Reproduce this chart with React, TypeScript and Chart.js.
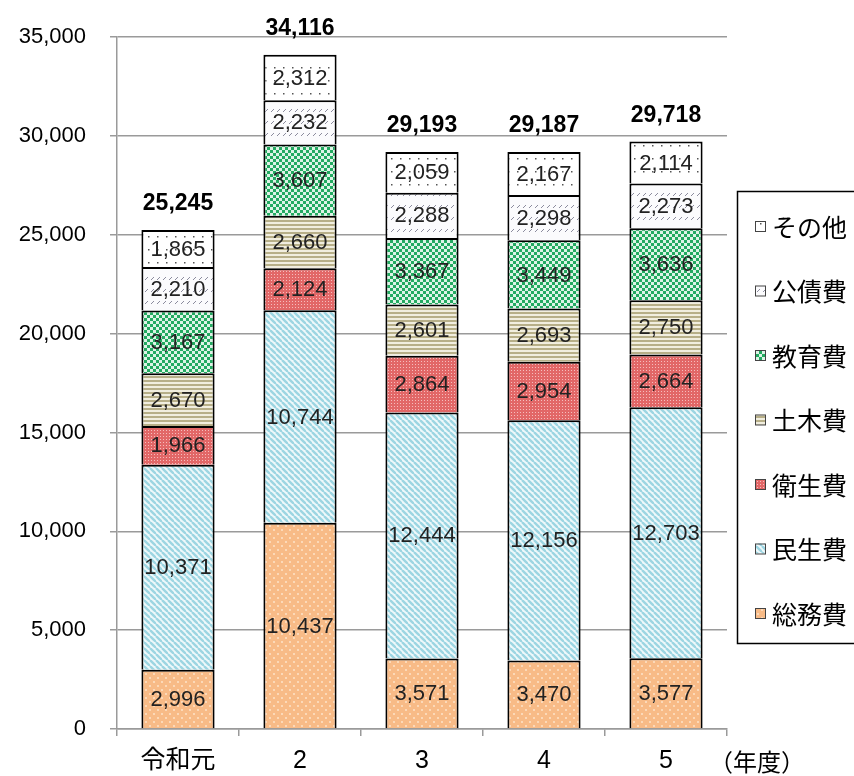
import React, { useEffect, useRef } from "react";
import { Chart, registerables } from "chart.js";

Chart.register(...registerables);

const categories = ["令和元", "2", "3", "4", "5"];
const seriesLabels = ["総務費", "民生費", "衛生費", "土木費", "教育費", "公債費", "その他"];
const soumu = [2996, 10437, 3571, 3470, 3577];
const minsei = [10371, 10744, 12444, 12156, 12703];
const eisei = [1966, 2124, 2864, 2954, 2664];
const doboku = [2670, 2660, 2601, 2693, 2750];
const kyouiku = [3167, 3607, 3367, 3449, 3636];
const kousai = [2210, 2232, 2288, 2298, 2273];
const sonota = [1865, 2312, 2059, 2167, 2114];
const totals = [25245, 34116, 29193, 29187, 29718];
const yMax = 35000;
const yStep = 5000;
const xUnit = "（年度）";

const fmt = (v: number) => v.toLocaleString("en-US");

function tile(w: number, h: number, draw: (c: CanvasRenderingContext2D) => void) {
  const cv = document.createElement("canvas");
  cv.width = w;
  cv.height = h;
  const c = cv.getContext("2d")!;
  draw(c);
  return cv;
}

function makePatterns(ctx: CanvasRenderingContext2D) {
  const p: CanvasPattern[] = [];
  p.push(
    ctx.createPattern(
      tile(8, 8, (c) => {
        c.fillStyle = "#F8BB87";
        c.fillRect(0, 0, 8, 8);
        c.fillStyle = "#FCD9B8";
        c.fillRect(1, 1, 2, 2);
        c.fillRect(5, 5, 2, 2);
      }),
      "repeat"
    )!
  );
  p.push(
    ctx.createPattern(
      tile(6, 6, (c) => {
        c.fillStyle = "#EEF8FA";
        c.fillRect(0, 0, 6, 6);
        c.strokeStyle = "#9CD5E2";
        c.lineWidth = 2.4;
        for (let k = -6; k <= 12; k += 6) {
          c.beginPath();
          c.moveTo(k, 0);
          c.lineTo(k + 6, 6);
          c.stroke();
        }
      }),
      "repeat"
    )!
  );
  p.push(
    ctx.createPattern(
      tile(3, 3, (c) => {
        c.fillStyle = "#E26767";
        c.fillRect(0, 0, 3, 3);
        c.fillStyle = "#F5BDBD";
        c.fillRect(1, 1, 1, 1);
      }),
      "repeat"
    )!
  );
  p.push(
    ctx.createPattern(
      tile(4, 4, (c) => {
        c.fillStyle = "#F1EEDF";
        c.fillRect(0, 0, 4, 4);
        c.fillStyle = "#B7AF88";
        c.fillRect(0, 0, 4, 2);
      }),
      "repeat"
    )!
  );
  p.push(
    ctx.createPattern(
      tile(6, 6, (c) => {
        c.fillStyle = "#DDF3E6";
        c.fillRect(0, 0, 6, 6);
        c.fillStyle = "#22AA60";
        c.fillRect(0, 0, 3, 3);
        c.fillRect(3, 3, 3, 3);
      }),
      "repeat"
    )!
  );
  p.push(
    ctx.createPattern(
      tile(6, 12, (c) => {
        c.fillStyle = "#FBFBFD";
        c.fillRect(0, 0, 6, 12);
        c.strokeStyle = "#8C8C9E";
        c.lineWidth = 1;
        c.beginPath();
        c.moveTo(1, 4);
        c.lineTo(4, 1);
        c.stroke();
      }),
      "repeat"
    )!
  );
  p.push(
    ctx.createPattern(
      tile(9, 13, (c) => {
        c.fillStyle = "#FFFFFF";
        c.fillRect(0, 0, 9, 13);
        c.fillStyle = "#555555";
        c.fillRect(4, 2, 1.5, 1.5);
      }),
      "repeat"
    )!
  );
  return p;
}

export default function App() {
  const ref = useRef<HTMLCanvasElement>(null);
  useEffect(() => {
    const canvas = ref.current!;
    const ctx = canvas.getContext("2d")!;
    const patterns = makePatterns(ctx);
    const series = [soumu, minsei, eisei, doboku, kyouiku, kousai, sonota];

    const labelsPlugin = {
      id: "labels",
      afterDatasetsDraw(chart: any) {
        const c = chart.ctx;
        c.save();
        c.textAlign = "center";
        c.textBaseline = "middle";
        c.font = "22px 'Liberation Sans', Arial, sans-serif";
        c.fillStyle = "#222";
        chart.data.datasets.forEach((ds: any, di: number) => {
          const meta = chart.getDatasetMeta(di);
          meta.data.forEach((el: any, i: number) => {
            const v = ds.data[i];
            const cy = (el.y + el.base) / 2;
            c.fillText(fmt(v), el.x, cy + 1);
          });
        });
        const last = chart.getDatasetMeta(chart.data.datasets.length - 1);
        c.font = "bold 23px 'Liberation Sans', Arial, sans-serif";
        c.fillStyle = "#000";
        last.data.forEach((el: any, i: number) => {
          c.fillText(fmt(totals[i]), el.x, el.y - 26);
        });
        c.restore();
      },
      afterDraw(chart: any) {
        const c = chart.ctx;
        c.save();
        c.strokeStyle = "#000";
        c.lineWidth = 1.5;
        c.strokeRect(737.5, 191.5, 140, 452);
        c.textAlign = "left";
        c.textBaseline = "middle";
        c.font = "25px 'Noto Sans CJK JP', sans-serif";
        const n = chart.data.datasets.length;
        for (let k = 0; k < n; k++) {
          const di = n - 1 - k;
          const ds = chart.data.datasets[di];
          const cy = 226 + k * 64.5;
          c.fillStyle = ds.backgroundColor;
          c.fillRect(755, cy - 5, 10, 10);
          c.strokeStyle = "#444";
          c.lineWidth = 1;
          c.strokeRect(755.5, cy - 4.5, 10, 10);
          c.fillStyle = "#000";
          c.fillText(ds.label, 772, cy + 1);
        }
        c.textAlign = "center";
        c.font = "24px 'Noto Sans CJK JP', sans-serif";
        c.fillText(xUnit, 757, 762);
        c.restore();
      },
    };

    const chart = new Chart(ctx, {
      type: "bar",
      data: {
        labels: categories,
        datasets: series.map((d, i) => ({
          label: seriesLabels[i],
          data: d,
          backgroundColor: patterns[i] as any,
          borderColor: "#000",
          borderWidth: 2,
          barPercentage: 0.6,
          categoryPercentage: 1.0,
        })),
      },
      options: {
        responsive: false,
        animation: false,
        layout: { padding: { top: 33, right: 127, left: 0, bottom: 0 } },
        plugins: {
          legend: { display: false },
          tooltip: { enabled: false },
          title: { display: false },
        },
        scales: {
          x: {
            stacked: true,
            afterFit: (s: any) => {
              s.height = 47;
            },
            grid: {
              drawOnChartArea: false,
              drawTicks: true,
              tickLength: 7,
              color: "#9a9a9a",
              lineWidth: 1.5,
              offset: true,
            },
            border: { color: "#9a9a9a", width: 1.5 },
            ticks: {
              color: "#000",
              padding: 10,
              font: { size: 25, family: "'Liberation Sans', 'Noto Sans CJK JP', sans-serif" },
            },
          },
          y: {
            stacked: true,
            min: 0,
            max: yMax,
            afterFit: (s: any) => {
              s.width = 117;
            },
            grid: {
              color: "#9a9a9a",
              lineWidth: 1.5,
              tickLength: 7,
            },
            border: { color: "#9a9a9a", width: 1.5 },
            ticks: {
              stepSize: yStep,
              color: "#000",
              padding: 24,
              font: { size: 22, family: "'Liberation Sans', Arial, sans-serif" },
              callback: (v: any) => fmt(Number(v)),
            },
          },
        },
      },
      plugins: [labelsPlugin],
    });
    return () => chart.destroy();
  }, []);

  return (
    <div style={{ position: "absolute", left: 0, top: 0, width: 854, height: 776, background: "#fff" }}>
      <canvas ref={ref} width={854} height={776} style={{ display: "block" }} />
    </div>
  );
}
